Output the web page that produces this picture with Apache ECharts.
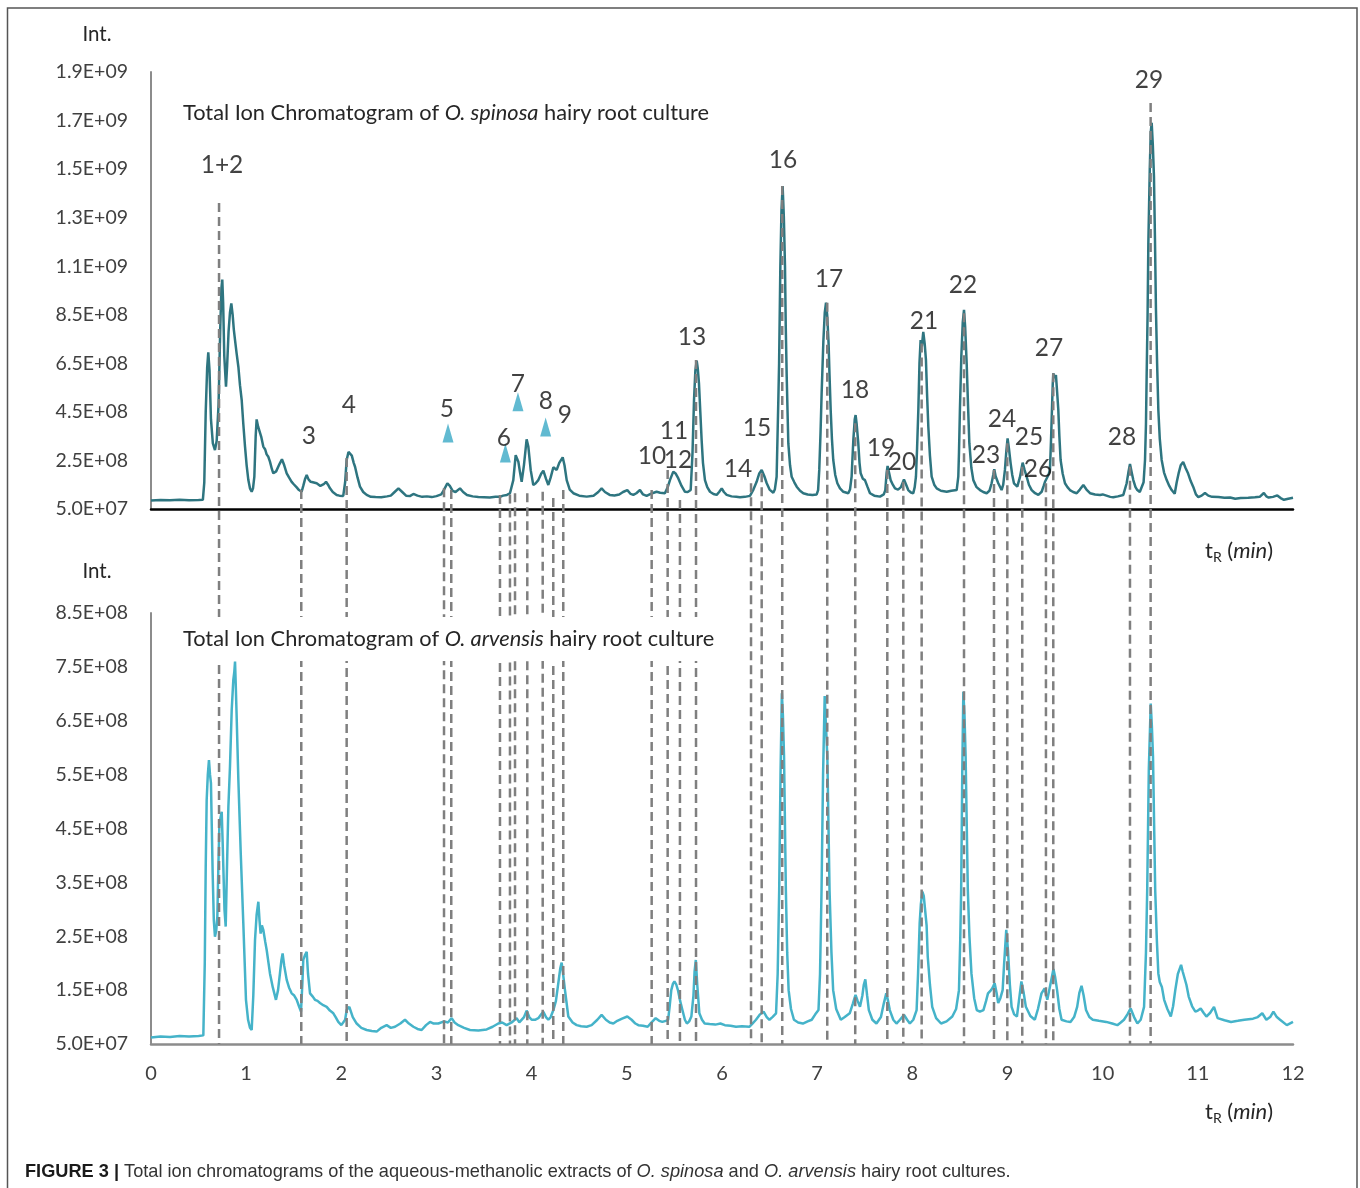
<!DOCTYPE html>
<html>
<head>
<meta charset="utf-8">
<script src="https://cdn.jsdelivr.net/npm/echarts@6/dist/echarts.min.js"></script>
<style>
html,body{margin:0;padding:0;background:#fff;}
#c{width:1360px;height:1188px;}
</style>
</head>
<body>
<div id="c"></div>
<script>
// ---------------- DATA ----------------
// Intensities are given in units of 1e8 counts (E8); retention time in minutes.
const E8 = 1e8;

// O. spinosa (top chromatogram)
const spinosaT = [0.00,0.10,0.20,0.30,0.40,0.50,0.545,0.56,0.575,0.59,0.602,0.615,0.63,0.65,0.672,0.69,0.71,0.728,0.74,0.749,0.758,0.77,0.788,0.80,0.815,0.83,0.844,0.858,0.87,0.883,0.90,0.918,0.935,0.953,0.97,0.988,1.005,1.023,1.04,1.058,1.072,1.086,1.10,1.11,1.125,1.145,1.16,1.18,1.20,1.215,1.233,1.25,1.27,1.285,1.30,1.315,1.328,1.35,1.376,1.40,1.426,1.45,1.478,1.50,1.531,1.555,1.583,1.60,1.62,1.636,1.655,1.678,1.70,1.72,1.741,1.76,1.78,1.794,1.815,1.839,1.86,1.881,1.91,1.951,1.98,2.02,2.04,2.056,2.075,2.091,2.11,2.13,2.144,2.17,2.196,2.23,2.266,2.31,2.36,2.42,2.48,2.52,2.56,2.60,2.64,2.68,2.72,2.757,2.80,2.85,2.90,2.95,3.00,3.05,3.08,3.114,3.14,3.17,3.20,3.247,3.28,3.32,3.38,3.44,3.50,3.56,3.62,3.667,3.70,3.74,3.772,3.807,3.832,3.86,3.878,3.895,3.919,3.947,3.965,3.99,4.017,4.04,4.07,4.10,4.123,4.15,4.175,4.20,4.228,4.263,4.29,4.326,4.345,4.368,4.40,4.438,4.50,4.578,4.65,4.70,4.735,4.77,4.82,4.87,4.92,4.96,5.005,5.04,5.068,5.10,5.138,5.17,5.208,5.25,5.29,5.313,5.35,5.40,5.43,5.453,5.488,5.515,5.541,5.575,5.611,5.64,5.671,5.69,5.706,5.72,5.734,5.745,5.758,5.772,5.786,5.80,5.821,5.845,5.874,5.91,5.944,5.97,5.997,6.02,6.049,6.10,6.15,6.189,6.24,6.294,6.33,6.364,6.39,6.417,6.445,6.47,6.50,6.539,6.555,6.574,6.592,6.60,6.613,6.625,6.637,6.65,6.662,6.67,6.68,6.69,6.697,6.715,6.732,6.76,6.785,6.82,6.854,6.90,6.95,6.995,7.01,7.022,7.035,7.047,7.065,7.08,7.093,7.105,7.12,7.13,7.142,7.155,7.169,7.19,7.212,7.24,7.275,7.327,7.345,7.362,7.38,7.395,7.404,7.415,7.432,7.445,7.457,7.48,7.502,7.53,7.555,7.60,7.66,7.70,7.716,7.73,7.74,7.755,7.772,7.795,7.818,7.85,7.88,7.912,7.935,7.957,7.985,8.01,8.025,8.038,8.05,8.063,8.075,8.087,8.10,8.115,8.13,8.143,8.155,8.168,8.185,8.203,8.23,8.256,8.30,8.361,8.41,8.466,8.483,8.49,8.50,8.515,8.53,8.543,8.555,8.571,8.585,8.599,8.62,8.641,8.675,8.711,8.745,8.781,8.81,8.833,8.85,8.861,8.875,8.903,8.938,8.955,8.973,8.988,9.001,9.015,9.033,9.05,9.068,9.103,9.13,9.159,9.18,9.201,9.225,9.254,9.29,9.324,9.359,9.38,9.394,9.41,9.43,9.446,9.457,9.467,9.475,9.481,9.495,9.509,9.52,9.534,9.545,9.558,9.58,9.604,9.63,9.656,9.69,9.727,9.76,9.797,9.83,9.867,9.92,9.972,10.0,10.04,10.08,10.111,10.16,10.217,10.252,10.27,10.287,10.305,10.322,10.345,10.364,10.39,10.41,10.43,10.445,10.455,10.462,10.472,10.48,10.495,10.505,10.515,10.527,10.539,10.55,10.56,10.572,10.585,10.60,10.62,10.645,10.673,10.70,10.725,10.745,10.757,10.778,10.80,10.82,10.846,10.87,10.898,10.925,10.952,10.98,11.005,11.04,11.075,11.11,11.15,11.217,11.28,11.34,11.393,11.45,11.53,11.60,11.65,11.694,11.72,11.745,11.79,11.835,11.87,11.905,11.95,12.0];
const spinosaI = [0.85,0.87,0.86,0.88,0.86,0.87,0.88,1.6,4.5,6.3,6.95,6.2,4.2,3.2,2.93,3.3,4.8,8.0,9.6,9.95,9.0,6.8,5.54,6.4,7.8,8.6,8.97,8.5,7.9,7.46,6.9,6.36,5.6,4.99,4.0,3.07,2.3,1.69,1.35,1.21,1.35,1.83,3.5,4.19,3.9,3.89,3.45,3.07,2.95,2.75,2.65,2.45,2.15,1.97,1.95,2.05,2.10,2.35,2.55,2.3,1.97,1.8,1.62,1.52,1.39,1.28,1.21,1.45,1.75,1.90,1.72,1.62,1.6,1.55,1.56,1.5,1.45,1.42,1.52,1.62,1.5,1.35,1.2,1.08,1.05,1.04,1.6,2.52,2.85,2.93,2.7,2.4,2.24,1.8,1.42,1.2,1.08,1.0,0.99,0.98,1.02,1.05,1.2,1.35,1.2,1.05,1.03,1.12,1.05,1.0,1.02,0.99,1.03,1.1,1.3,1.56,1.45,1.25,1.2,1.35,1.2,1.08,1.02,0.99,0.98,0.97,1.0,1.0,1.05,1.08,1.15,1.69,2.72,2.45,2.0,1.62,2.31,3.37,3.07,2.1,1.49,1.55,1.69,1.95,2.08,1.75,1.49,1.8,2.22,2.11,2.4,2.63,2.3,1.69,1.3,1.15,1.05,1.01,1.05,1.2,1.35,1.2,1.08,1.06,1.1,1.2,1.28,1.12,1.08,1.15,1.28,1.1,1.04,1.12,1.18,1.21,1.17,1.15,1.4,1.69,2.04,1.95,1.76,1.45,1.21,1.2,1.28,2.8,4.99,6.2,6.61,6.3,5.68,4.5,3.34,2.4,1.69,1.4,1.21,1.12,1.08,1.2,1.35,1.2,1.08,1.02,1.0,0.98,1.0,1.04,1.3,1.62,1.95,2.11,1.85,1.56,1.3,1.17,1.3,1.83,5.0,6.5,10.48,12.8,13.80,12.5,10.48,8.0,5.95,4.3,3.2,2.3,1.83,1.6,1.42,1.25,1.15,1.1,1.08,1.1,1.28,2.11,3.6,5.27,7.4,8.6,9.0,8.5,7.32,6.0,4.58,3.4,2.52,1.9,1.56,1.35,1.21,1.15,1.3,1.83,3.34,4.2,4.37,4.0,3.21,2.4,1.97,1.75,1.69,1.4,1.15,1.05,1.01,1.1,1.28,2.0,2.27,2.0,1.69,1.5,1.35,1.3,1.4,1.72,1.5,1.28,1.18,1.15,1.4,1.83,3.0,4.58,6.5,7.46,7.2,7.80,7.3,6.64,5.2,3.89,2.7,1.83,1.5,1.35,1.25,1.21,1.25,1.28,1.83,2.8,4.58,6.8,8.2,8.70,8.0,6.5,4.8,3.21,2.2,1.69,1.4,1.28,1.2,1.15,1.25,1.56,1.9,2.14,1.85,1.56,1.28,1.5,2.11,2.9,3.41,3.0,2.38,1.9,1.56,1.42,1.8,2.41,2.1,1.83,1.5,1.28,1.15,1.08,1.21,1.45,1.62,1.7,1.9,2.11,3.3,4.58,5.6,6.09,5.9,6.02,5.4,4.58,3.5,2.52,1.95,1.56,1.4,1.28,1.2,1.15,1.3,1.49,1.3,1.15,1.1,1.08,1.1,1.05,1.0,0.98,1.02,1.08,1.56,2.0,2.35,2.0,1.69,1.4,1.28,1.2,1.21,1.6,2.52,4.0,5.95,8.5,11.44,14.5,16.0,16.41,15.5,14.19,11.5,8.70,6.5,4.58,3.4,2.52,2.0,1.69,1.45,1.28,1.2,1.13,1.6,2.0,2.3,2.44,2.2,1.96,1.65,1.41,1.1,0.99,1.05,1.16,1.05,1.0,0.99,0.96,0.97,0.92,0.95,0.96,0.98,1.0,1.16,1.02,0.97,1.0,1.06,0.95,0.88,0.92,0.96];

// O. arvensis (bottom chromatogram)
const arvensisT = [0.00,0.10,0.20,0.30,0.40,0.50,0.55,0.565,0.575,0.585,0.597,0.609,0.62,0.63,0.648,0.66,0.672,0.685,0.697,0.708,0.718,0.73,0.743,0.752,0.76,0.772,0.785,0.80,0.813,0.83,0.848,0.865,0.875,0.883,0.89,0.90,0.918,0.943,0.97,0.998,1.02,1.04,1.058,1.075,1.093,1.11,1.128,1.14,1.152,1.165,1.18,1.20,1.216,1.235,1.25,1.28,1.313,1.335,1.355,1.37,1.383,1.40,1.426,1.45,1.478,1.505,1.531,1.555,1.576,1.59,1.60,1.618,1.636,1.65,1.671,1.70,1.723,1.75,1.776,1.81,1.846,1.88,1.916,1.94,1.968,2.0,2.02,2.04,2.056,2.084,2.12,2.161,2.21,2.266,2.32,2.371,2.42,2.476,2.52,2.564,2.62,2.669,2.71,2.757,2.80,2.844,2.89,2.932,2.97,3.019,3.08,3.12,3.159,3.19,3.229,3.29,3.352,3.44,3.527,3.59,3.649,3.69,3.737,3.79,3.842,3.87,3.89,3.92,3.947,3.975,4.0,4.035,4.07,4.1,4.123,4.15,4.175,4.2,4.228,4.255,4.28,4.3,4.315,4.33,4.35,4.385,4.43,4.473,4.52,4.578,4.63,4.69,4.735,4.78,4.82,4.858,4.9,4.95,5.005,5.05,5.09,5.121,5.17,5.219,5.26,5.303,5.34,5.373,5.41,5.434,5.45,5.467,5.485,5.50,5.52,5.537,5.56,5.584,5.61,5.631,5.655,5.678,5.70,5.712,5.725,5.74,5.762,5.79,5.818,5.87,5.93,5.983,6.03,6.09,6.147,6.21,6.287,6.32,6.357,6.40,6.437,6.47,6.498,6.53,6.568,6.585,6.601,6.615,6.629,6.64,6.652,6.671,6.685,6.70,6.725,6.756,6.80,6.85,6.90,6.943,6.98,7.014,7.03,7.046,7.062,7.079,7.09,7.107,7.13,7.15,7.168,7.2,7.248,7.29,7.342,7.375,7.403,7.425,7.45,7.475,7.49,7.506,7.525,7.543,7.58,7.623,7.67,7.70,7.726,7.745,7.763,7.80,7.833,7.87,7.913,7.945,7.974,8.01,8.045,8.06,8.077,8.09,8.105,8.12,8.138,8.15,8.162,8.185,8.209,8.25,8.302,8.36,8.42,8.46,8.49,8.503,8.513,8.525,8.536,8.548,8.56,8.583,8.6,8.621,8.65,8.677,8.71,8.747,8.775,8.795,8.827,8.845,8.865,8.885,8.902,8.925,8.949,8.965,8.987,9.005,9.025,9.043,9.07,9.099,9.12,9.146,9.17,9.193,9.24,9.287,9.32,9.357,9.39,9.418,9.45,9.483,9.50,9.521,9.545,9.568,9.62,9.662,9.70,9.732,9.755,9.778,9.80,9.825,9.86,9.896,9.96,10.037,10.1,10.154,10.19,10.224,10.26,10.294,10.33,10.365,10.40,10.435,10.455,10.468,10.485,10.505,10.517,10.529,10.552,10.57,10.585,10.60,10.622,10.646,10.68,10.716,10.74,10.763,10.79,10.824,10.84,10.857,10.88,10.904,10.94,10.974,11.0,11.03,11.06,11.09,11.13,11.17,11.208,11.28,11.349,11.42,11.489,11.58,11.63,11.677,11.72,11.76,11.794,11.83,11.864,11.935,12.0];
const arvensisI = [0.62,0.64,0.63,0.65,0.64,0.65,0.66,2.0,3.8,5.03,5.5,5.77,5.5,5.34,3.67,2.8,2.49,2.6,2.86,3.8,4.53,4.7,4.81,4.3,3.79,3.0,2.68,3.9,4.90,5.65,6.70,7.26,7.4,7.60,7.2,6.58,5.40,4.04,2.74,1.32,0.95,0.8,0.76,1.4,2.43,2.9,3.14,2.8,2.55,2.7,2.62,2.4,2.24,2.0,1.81,1.55,1.32,1.5,1.81,2.05,2.18,1.95,1.69,1.55,1.44,1.4,1.32,1.2,1.10,1.6,2.06,2.15,2.21,1.8,1.44,1.38,1.32,1.3,1.26,1.22,1.19,1.12,1.07,1.0,0.91,0.85,0.82,0.95,1.13,1.19,1.0,0.88,0.8,0.76,0.74,0.73,0.8,0.85,0.8,0.82,0.88,0.95,0.88,0.82,0.78,0.76,0.85,0.91,0.88,0.88,0.92,0.9,0.98,0.9,0.85,0.8,0.76,0.75,0.77,0.82,0.88,0.9,0.85,0.9,0.98,0.9,0.88,1.0,1.12,1.0,0.95,0.95,0.98,1.05,1.10,1.0,0.95,1.0,1.13,1.3,1.63,1.9,2.01,1.8,1.50,1.01,0.9,0.85,0.83,0.82,0.85,0.95,1.04,0.95,0.9,0.88,0.93,0.97,1.01,0.95,0.88,0.85,0.84,0.82,0.9,0.98,0.93,0.91,0.93,0.95,1.2,1.50,1.62,1.66,1.6,1.50,1.3,1.13,0.95,0.88,0.92,1.01,1.4,1.85,2.06,1.6,1.07,0.95,0.88,0.87,0.86,0.88,0.85,0.84,0.82,0.83,0.82,0.88,0.95,1.05,1.10,1.0,0.95,1.0,1.07,1.8,3.36,5.5,7.01,6.6,5.83,3.36,2.2,1.50,1.15,0.95,0.9,0.88,0.92,0.95,1.05,1.13,1.8,3.36,5.5,6.96,6.5,5.83,3.36,2.2,1.50,1.15,0.95,1.0,1.07,1.25,1.41,1.3,1.19,1.4,1.6,1.70,1.4,1.13,0.95,0.88,1.0,1.25,1.44,1.3,1.13,0.95,0.88,0.95,1.04,0.95,0.88,0.95,1.13,1.8,2.74,3.1,3.33,3.25,3.23,2.7,2.12,1.6,1.19,0.98,0.88,0.92,1.01,1.15,1.50,2.4,3.36,5.6,7.04,6.6,5.83,3.36,2.5,1.81,1.35,1.13,1.1,1.13,1.3,1.44,1.50,1.55,1.63,1.45,1.26,1.35,1.50,2.0,2.62,2.24,1.6,1.19,1.05,1.01,1.3,1.66,1.45,1.19,1.02,0.95,1.15,1.44,1.53,1.32,1.6,1.89,1.75,1.50,1.15,0.95,0.92,0.91,1.0,1.19,1.45,1.58,1.4,1.13,1.0,0.95,0.93,0.91,0.88,0.85,0.9,0.95,1.05,1.16,1.0,0.88,0.95,1.19,2.2,3.36,5.6,6.82,6.4,5.83,3.36,2.4,1.81,1.65,1.56,1.32,1.15,1.01,1.2,1.50,1.8,1.97,1.85,1.87,1.6,1.38,1.2,1.10,1.12,1.16,1.08,1.01,1.08,1.19,0.98,0.94,0.91,0.93,0.95,0.97,1.0,1.07,0.95,1.0,1.10,1.0,0.95,0.85,0.91];

// Peak labels (top chromatogram): name, retention time, label height (E8)
const peakNames  = ['1+2','3','4','5','6','7','8','9','10','11','12','13','14','15','16','17','18','19','20','21','22','23','24','25','26','27','28','29'];
const peakLabelT = [0.746,1.66,2.08,3.11,3.709,3.856,4.15,4.35,5.264,5.495,5.537,5.685,6.168,6.368,6.641,7.124,7.397,7.671,7.891,8.122,8.532,8.774,8.942,9.226,9.32,9.436,10.203,10.486];
const peakLabelI = [14.67,3.51,4.78,4.62,3.42,5.65,4.95,4.37,2.68,3.71,2.52,7.58,2.15,3.84,14.87,9.97,5.40,3.01,2.44,8.24,9.73,2.72,4.21,3.47,2.15,7.13,3.47,18.17];

// Dashed reference lines: retention time and start height in the top chromatogram (E8)
const lineT    = [0.715,1.579,2.056,3.079,3.155,3.667,3.772,3.825,3.954,4.116,4.227,4.332,5.261,5.429,5.558,5.727,6.305,6.417,6.633,7.106,7.40,7.737,7.905,8.098,8.543,8.858,8.998,9.155,9.404,9.481,10.287,10.504];
const lineTopI = [13.10,1.28,2.60,1.35,1.28,1.08,1.10,1.15,1.15,1.21,0.95,1.28,1.28,2.11,0.87,6.64,1.56,1.97,13.80,9.0,4.03,2.11,1.62,7.32,8.56,2.11,3.21,2.24,1.56,6.09,2.24,17.22];

// Blue triangle markers (top chromatogram)
const markerT = [3.121,3.724,3.856,4.147];
const markerI = [3.63,2.81,4.92,3.88];

// Axis ticks
const topTickVals   = [5e7,2.5e8,4.5e8,6.5e8,8.5e8,1.05e9,1.25e9,1.45e9,1.65e9,1.85e9];
const topTickLabels = ['5.0E+07','2.5E+08','4.5E+08','6.5E+08','8.5E+08','1.1E+09','1.3E+09','1.5E+09','1.7E+09','1.9E+09'];
const botTickVals   = [5e7,1.5e8,2.5e8,3.5e8,4.5e8,5.5e8,6.5e8,7.5e8,8.5e8];
const botTickLabels = ['5.0E+07','1.5E+08','2.5E+08','3.5E+08','4.5E+08','5.5E+08','6.5E+08','7.5E+08','8.5E+08'];
const xTickLabels   = ['0','1','2','3','4','5','6','7','8','9','10','11','12'];

// ---------------- CHART ----------------
const FONT = 'Lato';
const chart = echarts.init(document.getElementById('c'), null, {renderer: 'canvas'});

function tickFormatter(vals, labels) {
  return function (v) {
    for (let i = 0; i < vals.length; i++) if (Math.abs(vals[i] - v) < 1) return labels[i];
    return '';
  };
}

const option = {
  animation: false,
  backgroundColor: '#ffffff',
  grid: [
    {left: 151, top: 72, width: 1142, height: 437},
    {left: 151, top: 613, width: 1142, height: 431}
  ],
  xAxis: [
    {gridIndex: 0, type: 'value', min: 0, max: 12, interval: 1,
     axisLine: {show: true, onZero: false, lineStyle: {color: '#000000', width: 2.5}},
     axisTick: {show: false}, axisLabel: {show: false}, splitLine: {show: false}},
    {gridIndex: 1, type: 'value', min: 0, max: 12, interval: 1,
     axisLine: {show: true, onZero: false, lineStyle: {color: '#8c8c8c', width: 2.5}},
     axisTick: {show: false}, splitLine: {show: false},
     axisLabel: {fontFamily: FONT, fontSize: 20, color: '#404040', margin: 20,
                 formatter: v => xTickLabels[Math.round(v)]}}
  ],
  yAxis: [
    {gridIndex: 0, type: 'value', min: topTickVals[0], max: topTickVals[topTickVals.length - 1],
     axisLine: {show: true, lineStyle: {color: '#8c8c8c', width: 2}},
     axisTick: {show: false}, splitLine: {show: false},
     axisLabel: {customValues: topTickVals, formatter: tickFormatter(topTickVals, topTickLabels),
                 fontFamily: FONT, fontSize: 19.5, color: '#404040', margin: 23}},
    {gridIndex: 1, type: 'value', min: botTickVals[0], max: botTickVals[botTickVals.length - 1],
     axisLine: {show: true, lineStyle: {color: '#8c8c8c', width: 2}},
     axisTick: {show: false}, splitLine: {show: false},
     axisLabel: {customValues: botTickVals, formatter: tickFormatter(botTickVals, botTickLabels),
                 fontFamily: FONT, fontSize: 19.5, color: '#404040', margin: 23}}
  ],
  series: [
    {name: 'O. spinosa', type: 'line', xAxisIndex: 0, yAxisIndex: 0, showSymbol: false, z: 3,
     lineStyle: {color: '#2e7580', width: 2.5}, itemStyle: {color: '#2e7580'},
     data: spinosaT.map((t, i) => [t, spinosaI[i] * E8])},
    {name: 'O. arvensis', type: 'line', xAxisIndex: 1, yAxisIndex: 1, showSymbol: false, z: 3,
     lineStyle: {color: '#45b3c9', width: 2.5}, itemStyle: {color: '#45b3c9'},
     data: arvensisT.map((t, i) => [t, arvensisI[i] * E8])},
    {name: 'markers', type: 'scatter', xAxisIndex: 0, yAxisIndex: 0, symbol: 'triangle',
     symbolSize: [11, 19], itemStyle: {color: '#3aa9c6'}, z: 4,
     data: markerT.map((t, i) => [t, markerI[i] * E8])},
    {name: 'peaks', type: 'scatter', xAxisIndex: 0, yAxisIndex: 0, symbolSize: 0, z: 5,
     label: {show: true, position: 'inside', formatter: p => p.name,
             fontFamily: FONT, fontSize: 24.5, color: '#111111'},
     data: peakNames.map((n, i) => ({name: n, value: [peakLabelT[i], peakLabelI[i] * E8]}))}
  ]
};
chart.setOption(option);

// ---- overlay: dashed reference lines spanning both chromatograms, texts, frame ----
const graphics = [];
graphics.push({type: 'rect', silent: true, z: 1,
  shape: {x: 7.5, y: 8, width: 1349.5, height: 1250},
  style: {fill: 'none', stroke: '#555555', lineWidth: 1.5}});

lineT.forEach((t, i) => {
  const p1 = chart.convertToPixel({gridIndex: 0}, [t, lineTopI[i] * E8]);
  const p2 = chart.convertToPixel({gridIndex: 1}, [t, botTickVals[0]]);
  graphics.push({type: 'line', silent: true, z: 50,
    shape: {x1: p1[0], y1: p1[1], x2: p1[0], y2: p2[1]},
    style: {stroke: '#7f7f7f', lineWidth: 2.5, lineDash: [9, 5]}});
});

const titleRich = {
  n: {fontFamily: FONT, fontSize: 21.8, fill: '#262626'},
  i: {fontFamily: FONT, fontSize: 21.8, fill: '#262626', fontStyle: 'italic'}
};
graphics.push({type: 'text', silent: true, z: 60, x: 183, y: 113,
  style: {text: '{n|Total Ion Chromatogram of }{i|O. spinosa}{n| hairy root culture}',
          rich: titleRich, align: 'left', verticalAlign: 'middle'}});
graphics.push({type: 'text', silent: true, z: 60, x: 179, y: 639,
  style: {text: '{n|Total Ion Chromatogram of }{i|O. arvensis}{n| hairy root culture}',
          rich: titleRich, align: 'left', verticalAlign: 'middle',
          backgroundColor: '#ffffff', padding: [11, 6, 11, 4]}});

[34, 571].forEach(y => graphics.push({type: 'text', silent: true, z: 60, x: 97, y: y,
  style: {text: 'Int.', fontFamily: FONT, fontSize: 20.5, fill: '#262626', align: 'center', verticalAlign: 'middle'}}));

const trRich = {
  n: {fontFamily: FONT, fontSize: 22, fill: '#262626'},
  s: {fontFamily: FONT, fontSize: 14, fill: '#262626', padding: [13, 0, 0, 0]},
  i: {fontFamily: FONT, fontSize: 22, fill: '#262626', fontStyle: 'italic'}
};
[551, 1112].forEach(y => graphics.push({type: 'text', silent: true, z: 60, x: 1205, y: y,
  style: {text: '{n|t}{s|R}{n| (}{i|min}{n|)}', rich: trRich, align: 'left', verticalAlign: 'middle'}}));

const CAPFONT = 'Liberation Sans Narrow, Liberation Sans, sans-serif';
const capRich = {
  b: {fontFamily: CAPFONT, fontSize: 18.2, fontWeight: 'bold', fill: '#1a1a1a'},
  n: {fontFamily: CAPFONT, fontSize: 18.2, fill: '#333333'},
  i: {fontFamily: CAPFONT, fontSize: 18.2, fill: '#333333', fontStyle: 'italic'}
};
graphics.push({type: 'text', silent: true, z: 60, x: 25, y: 1172,
  style: {text: '{b|FIGURE 3 | }{n|Total ion chromatograms of the aqueous-methanolic extracts of }{i|O. spinosa}{n| and }{i|O. arvensis}{n| hairy root cultures.}',
          rich: capRich, align: 'left', verticalAlign: 'middle'}});

chart.setOption({graphic: graphics});
</script>
</body>
</html>
